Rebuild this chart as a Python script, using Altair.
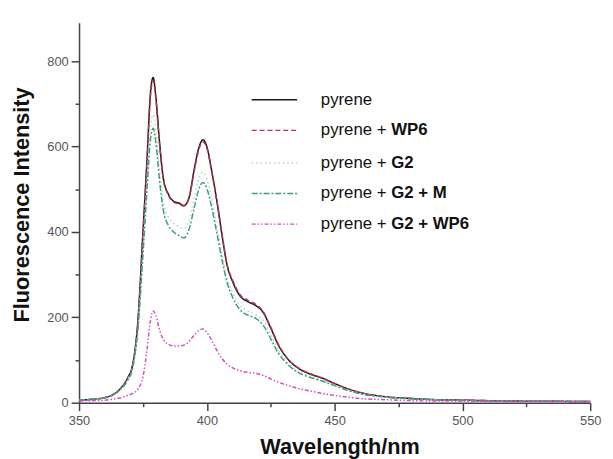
import altair as alt
import pandas as pd

wavelength = [350, 355, 360, 363, 366, 369, 371, 373, 375, 376.5, 378, 379, 380, 381.5, 383, 385, 387, 389, 391, 393,
              395, 397, 398.5, 400, 402, 404, 406, 408, 410, 413, 416, 419, 422, 425, 428, 432, 436, 440, 445, 450,
              455, 460, 470, 480, 490, 500, 520, 550]

pyrene = [6, 8, 12, 18, 32, 58, 90, 190, 400, 560, 730, 762, 720, 610, 525, 488, 472, 468, 462, 480,
          545, 600, 616, 600, 540, 470, 390, 320, 285, 250, 237, 228, 212, 175, 135, 100, 80, 68, 58, 45,
          33, 24, 14, 10, 7, 6, 4, 3]

pyrene_wp6 = [6, 8, 12, 18, 31, 57, 88, 186, 395, 552, 722, 755, 714, 605, 522, 486, 470, 466, 461, 478,
              541, 596, 611, 597, 538, 470, 392, 322, 288, 253, 240, 231, 214, 177, 137, 101, 81, 69, 58, 45,
              33, 24, 14, 10, 7, 6, 4, 3]

pyrene_g2 = [6, 8, 11, 17, 30, 54, 85, 175, 360, 510, 650, 675, 640, 545, 470, 435, 420, 413, 408, 425,
             480, 528, 540, 525, 475, 410, 345, 290, 258, 228, 215, 207, 193, 160, 123, 92, 73, 62, 53, 41,
             30, 22, 13, 9, 7, 5, 4, 3]

pyrene_g2_m = [6, 8, 11, 17, 30, 52, 82, 170, 345, 490, 620, 643, 612, 520, 450, 415, 400, 392, 386, 405,
               455, 503, 516, 502, 455, 395, 333, 280, 248, 218, 205, 198, 182, 150, 116, 88, 70, 60, 51, 40,
               29, 21, 13, 9, 7, 5, 4, 3]

pyrene_g2_wp6 = [4, 5, 6, 8, 11, 17, 22, 32, 60, 120, 195, 215, 205, 170, 148, 137, 133, 133, 135, 143,
                 158, 170, 173, 165, 145, 122, 103, 90, 82, 75, 71, 69, 64, 56, 48, 40, 33, 28, 22, 17,
                 13, 10, 7, 5, 4, 4, 3, 3]

series_names = ["pyrene", "pyrene + WP6", "pyrene + G2", "pyrene + G2 + M", "pyrene + G2 + WP6"]
series_values = [pyrene, pyrene_wp6, pyrene_g2, pyrene_g2_m, pyrene_g2_wp6]
legend_plain = ["pyrene", "pyrene + ", "pyrene + ", "pyrene + ", "pyrene + "]
legend_bold = ["", "WP6", "G2", "G2 + M", "G2 + WP6"]

colors = ["#1a1a1a", "#b8324e", "#b5d9ad", "#3c9c84", "#d24cc6"]
dashes = [[1, 0], [5, 3], [1.5, 3], [6, 2, 2, 2], [4, 2, 1.5, 2, 1.5, 2]]

rows = []
for i, (name, vals) in enumerate(zip(series_names, series_values)):
    for w, v in zip(wavelength, vals):
        rows.append({"wavelength": w, "intensity": v, "series": name, "order": i})
df = pd.DataFrame(rows)

FONT = "Liberation Sans"

xscale = alt.Scale(domain=[350, 550], nice=False, zero=False)
yscale = alt.Scale(domain=[0, 890], nice=False)

lines = alt.Chart(df).mark_line(strokeWidth=1.5, interpolate="monotone").encode(
    x=alt.X("wavelength:Q", scale=xscale,
            axis=alt.Axis(title="Wavelength/nm", values=[350, 400, 450, 500, 550], grid=False,
                          tickSize=8, labelPadding=4, labelFlush=False, labelOverlap=False,
                          titleX=264, titleY=51, titleBaseline="alphabetic")),
    y=alt.Y("intensity:Q", scale=yscale,
            axis=alt.Axis(title="Fluorescence Intensity", values=[0, 200, 400, 600, 800], grid=False,
                          tickSize=8, labelPadding=3,
                          titleX=-51, titleY=184, titleBaseline="alphabetic")),
    color=alt.Color("series:N", scale=alt.Scale(domain=series_names, range=colors), legend=None),
    strokeDash=alt.StrokeDash("series:N", scale=alt.Scale(domain=series_names, range=dashes), legend=None),
    order=alt.Order("order:Q"),
)

minor = alt.Chart(df).mark_point(opacity=0).encode(
    x=alt.X("wavelength:Q", scale=xscale,
            axis=alt.Axis(title=None, values=[375, 425, 475, 525], labels=False, domain=False,
                          grid=False, tickSize=4, orient="bottom")),
    y=alt.Y("intensity:Q", scale=yscale,
            axis=alt.Axis(title=None, values=[100, 300, 500, 700], labels=False, domain=False,
                          grid=False, tickSize=4, orient="left")),
)

legend_layers = []
row_y = [78, 109, 142, 173, 204]
for i in range(5):
    one = pd.DataFrame({"plain": [legend_plain[i]], "bold": [legend_bold[i]]})
    legend_layers.append(
        alt.Chart(one).mark_rule(color=colors[i], strokeWidth=1.5, strokeDash=dashes[i]).encode(
            x=alt.value(175), x2=alt.value(221), y=alt.value(row_y[i]))
    )
    legend_layers.append(
        alt.Chart(one).mark_text(align="left", baseline="middle", font=FONT, fontSize=17,
                                 color="#111").encode(
            x=alt.value(245), y=alt.value(row_y[i]), text="plain:N")
    )
    if legend_bold[i]:
        legend_layers.append(
            alt.Chart(one).mark_text(align="left", baseline="middle", font=FONT, fontSize=17,
                                     fontWeight="bold", color="#111").encode(
                x=alt.value(245 + 4.197 * 17), y=alt.value(row_y[i]), text="bold:N")
        )

chart = alt.layer(lines, minor, *legend_layers).resolve_axis(
    x="independent", y="independent"
).properties(
    width=518, height=385,
    padding={"left": 72, "top": 12, "right": 15, "bottom": 54},
    autosize=alt.AutoSizeParams(type="none"),
    background="white",
).configure_view(stroke=None).configure_axis(
    domainColor="#444", domainWidth=1.5, tickColor="#444", tickWidth=1.5,
    labelColor="#555", labelFont=FONT, labelFontSize=13,
    titleFont=FONT, titleFontSize=22, titleFontWeight="bold", titleColor="#111",
)

chart.save("out.html", embed_options={"renderer": "svg", "actions": False})
